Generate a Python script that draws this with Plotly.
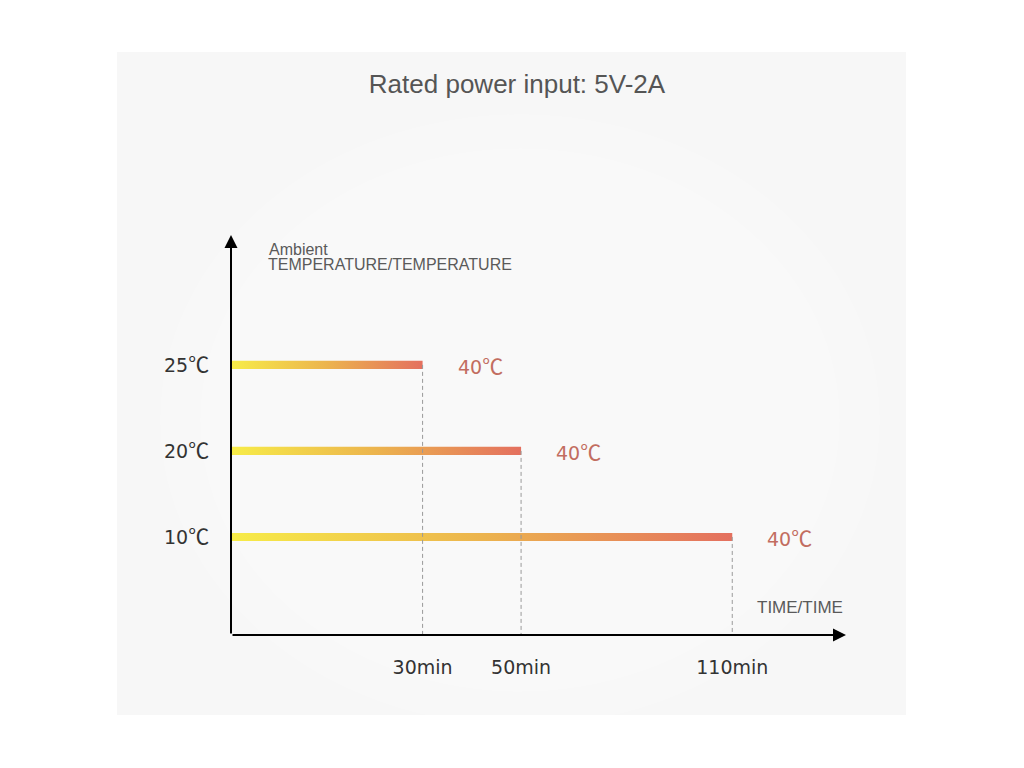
import numpy as np
import plotly.graph_objects as go

# ---- data ----
ambient_labels = ["25℃", "20℃", "10℃"]
ambient_temps = [25, 20, 10]
time_minutes = [30, 50, 110]
end_labels = ["40℃", "40℃", "40℃"]
time_tick_labels = ["30min", "50min", "110min"]

title_text = "Rated power input: 5V-2A"
y_title_small = "Ambient"
y_title = "TEMPERATURE/TEMPERATURE"
x_title = "TIME/TIME"


def deg(s):
    # render the ℃ sign with a CJK font (wider, with a raised degree mark)
    return s.replace("℃", '<span style="font-family:Noto Sans CJK JP;font-size:21px">℃</span>')


# ---- scales ----
# time axis is drawn on a square-root scale (as in the reference artwork)
x_lo = np.sqrt(5.65)
x_hi = np.sqrt(152.0)
# rows: lowest temperature at the bottom
rows = {t: i for i, t in enumerate(sorted(ambient_temps))}
y_lo, y_hi = -1.14, 3.51

half_h = 0.047
colorscale = [[0.0, "#f7ec48"], [0.5, "#ecb44e"], [1.0, "#e4705f"]]

fig = go.Figure()

for temp, minutes in zip(ambient_temps, time_minutes):
    r = rows[temp]
    xe = float(np.sqrt(minutes))
    fig.add_trace(go.Scatter(
        x=[x_lo, xe, xe, x_lo, x_lo],
        y=[r - half_h, r - half_h, r + half_h, r + half_h, r - half_h],
        mode="lines", fill="toself",
        line=dict(width=0),
        fillgradient=dict(type="horizontal", colorscale=colorscale,
                          start=x_lo, stop=xe),
        hoverinfo="skip", showlegend=False,
    ))
    fig.add_shape(type="line", x0=xe, x1=xe, y0=r, y1=y_lo,
                  xref="x", yref="y",
                  line=dict(color="#9a9a9a", width=1, dash="4px,3px"))

for temp, minutes, lab in zip(ambient_temps, time_minutes, end_labels):
    fig.add_annotation(x=float(np.sqrt(minutes)), y=rows[temp], text=deg(lab),
                       showarrow=False, xanchor="left", xshift=33,
                       font=dict(family="DejaVu Sans", size=19, color="#c26d60"))

# axes arrows
fig.add_annotation(x=x_hi, y=y_lo, ax=x_lo, ay=y_lo, xref="x", yref="y",
                   axref="x", ayref="y", text="", showarrow=True,
                   arrowhead=2, arrowwidth=2, arrowsize=1.3, arrowcolor="#000")
fig.add_annotation(x=x_lo, y=y_hi, ax=x_lo, ay=y_lo, xref="x", yref="y",
                   axref="x", ayref="y", text="", showarrow=True,
                   arrowhead=2, arrowwidth=2, arrowsize=1.3, arrowcolor="#000")

# page has an 8px body margin: work in page pixels, convert to figure pixels
OFF = 8
W, H = 1016, 760
L, R, T, B = 223, 178, 227, 133
pw, ph = W - L - R, H - T - B


def px_x(p):
    return (p - OFF - L) / pw


def px_y(p):
    return (H - B - (p - OFF)) / ph


fig.add_shape(type="rect", xref="paper", yref="paper",
              x0=px_x(117), x1=px_x(906), y0=px_y(715), y1=px_y(52),
              fillcolor="#f7f7f7", line=dict(width=0), layer="below")
# soft lighter glow in the centre of the panel
cx, cy = 520, 420
for rad in [360, 320, 280, 240, 200, 160]:
    fig.add_shape(type="circle", xref="paper", yref="paper",
                  x0=px_x(cx - rad), x1=px_x(cx + rad),
                  y0=px_y(cy + rad * 0.85), y1=px_y(cy - rad * 0.85),
                  fillcolor="rgba(255,255,255,0.13)", line=dict(width=0),
                  layer="below")

# axis titles
fig.add_annotation(xref="paper", yref="paper", x=px_x(267), y=px_y(249),
                   text=y_title_small, showarrow=False, xanchor="left", yanchor="middle",
                   font=dict(family="Liberation Sans", size=16, color="#5a5a5a"))
fig.add_annotation(xref="paper", yref="paper", x=px_x(266), y=px_y(264),
                   text=y_title, showarrow=False, xanchor="left", yanchor="middle",
                   font=dict(family="Liberation Sans", size=16, color="#5a5a5a"))
fig.add_annotation(xref="paper", yref="paper", x=px_x(845), y=px_y(607),
                   text=x_title, showarrow=False, xanchor="right", yanchor="middle",
                   font=dict(family="Liberation Sans", size=17, color="#5a5a5a"))

fig.update_layout(
    width=W, height=H,
    margin=dict(l=L, r=R, t=T, b=B),
    paper_bgcolor="#ffffff", plot_bgcolor="rgba(0,0,0,0)",
    title=dict(text=title_text, x=(517 - OFF) / W, xanchor="center",
               y=1 - (84 - OFF) / H, yanchor="middle", yref="container",
               font=dict(family="Liberation Sans", size=26, color="#555555")),
    xaxis=dict(range=[x_lo, x_hi], showgrid=False, zeroline=False, showline=False,
               tickvals=[float(np.sqrt(m)) for m in time_minutes],
               ticktext=time_tick_labels, ticks="outside", ticklen=15,
               tickcolor="rgba(0,0,0,0)", automargin=False,
               tickfont=dict(family="DejaVu Sans", size=19, color="#333333")),
    yaxis=dict(range=[y_lo, y_hi], showgrid=False, zeroline=False, showline=False,
               tickvals=[rows[t] for t in ambient_temps],
               ticktext=[deg(s) for s in ambient_labels], ticks="outside", ticklen=17,
               tickcolor="rgba(0,0,0,0)", automargin=False,
               tickfont=dict(family="DejaVu Sans", size=19, color="#333333")),
    hovermode=False,
)

fig.write_html("out.html")
